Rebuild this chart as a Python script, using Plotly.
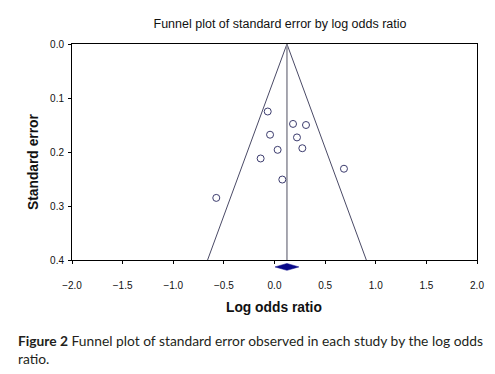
import plotly.graph_objects as go

# Study data
log_or = [-0.067, 0.183, 0.311, -0.044, 0.222, 0.031, 0.275, -0.137, 0.686, 0.077, -0.575]
std_err = [0.125, 0.148, 0.150, 0.168, 0.173, 0.196, 0.193, 0.212, 0.231, 0.251, 0.285]

summary_est = 0.123
summary_lo = 0.005
summary_hi = 0.241
se_max = 0.4
z = 1.96

x_ticks = [-2.0, -1.5, -1.0, -0.5, 0.0, 0.5, 1.0, 1.5, 2.0]
y_ticks = [0.0, 0.1, 0.2, 0.3, 0.4]

fig = go.Figure()

# funnel
fig.add_trace(go.Scatter(
    x=[summary_est - z * se_max, summary_est, summary_est + z * se_max],
    y=[se_max, 0, se_max], mode="lines",
    line=dict(color="#4a4a66", width=1), hoverinfo="skip", showlegend=False))
# center line
fig.add_trace(go.Scatter(
    x=[summary_est, summary_est], y=[0, se_max], mode="lines",
    line=dict(color="#8a8a96", width=1.5), hoverinfo="skip", showlegend=False))
# studies
fig.add_trace(go.Scatter(
    x=log_or, y=std_err, mode="markers",
    marker=dict(symbol="circle-open", size=7, color="#3c3c6e", line=dict(width=1)),
    showlegend=False))

# summary diamond (below the axis)
yc, hh = -0.032, 0.016
fig.add_shape(type="path", xref="x", yref="paper",
              path=f"M {summary_lo} {yc} L {summary_est} {yc+hh} L {summary_hi} {yc} L {summary_est} {yc-hh} Z",
              fillcolor="#0a0a8a", line=dict(color="#0a0a8a", width=0.5))

PW, PH = 405, 216  # plot area size in px


def px_x(p):
    return (p - 72) / PW


def px_y(p):
    return (260 - p) / PH


fig.update_layout(
    width=495, height=374,
    margin=dict(l=72, r=18, t=44, b=114),
    plot_bgcolor="white", paper_bgcolor="white",
    font=dict(family="Liberation Sans, Arial, sans-serif", color="#111111"),
    title=dict(text="Funnel plot of standard error by log odds ratio",
               xref="container", yref="container",
               x=280 / 495, xanchor="center", y=1 - 24 / 374, yanchor="middle",
               pad=dict(t=0, b=0, l=0, r=0),
               font=dict(size=12.5, color="#111111")),
    xaxis=dict(range=[-2, 2], tickvals=x_ticks, tickformat=".1f",
               ticks="outside", ticklen=3, tickcolor="black",
               showgrid=False, zeroline=False, showline=True, linecolor="black",
               linewidth=1, mirror=True, tickfont=dict(size=10), automargin=False,
               ticklabelstandoff=13),
    yaxis=dict(range=[0.4, 0], tickvals=y_ticks, tickformat=".1f",
               ticks="outside", ticklen=3, tickcolor="black",
               showgrid=False, zeroline=False, showline=True,
               linecolor="black", linewidth=1, mirror=True, tickfont=dict(size=10),
               automargin=False, ticklabelstandoff=2),
)

fig.add_annotation(xref="paper", yref="paper", x=px_x(273.5), y=px_y(307),
                   xanchor="center", yanchor="middle", showarrow=False,
                   text="<b>Log odds ratio</b>", font=dict(size=13.8, color="#111111"))
fig.add_annotation(xref="paper", yref="paper", x=px_x(33), y=px_y(162),
                   xanchor="center", yanchor="middle", showarrow=False, textangle=-90,
                   text="<b>Standard error</b>", font=dict(size=13.8, color="#111111"))

cap_font = dict(family="Lato, sans-serif", size=13.8, color="#231f20")
fig.add_annotation(xref="paper", yref="paper", x=px_x(16), y=px_y(340),
                   xanchor="left", yanchor="middle", showarrow=False, align="left",
                   text="<b>Figure 2</b> Funnel plot of standard error observed in each study by the log odds",
                   font=cap_font)
fig.add_annotation(xref="paper", yref="paper", x=px_x(16), y=px_y(358),
                   xanchor="left", yanchor="middle", showarrow=False, align="left",
                   text="ratio.", font=cap_font)

fig.write_html("out.html", post_script="document.body.style.margin='0';",
               config={"displayModeBar": False})
